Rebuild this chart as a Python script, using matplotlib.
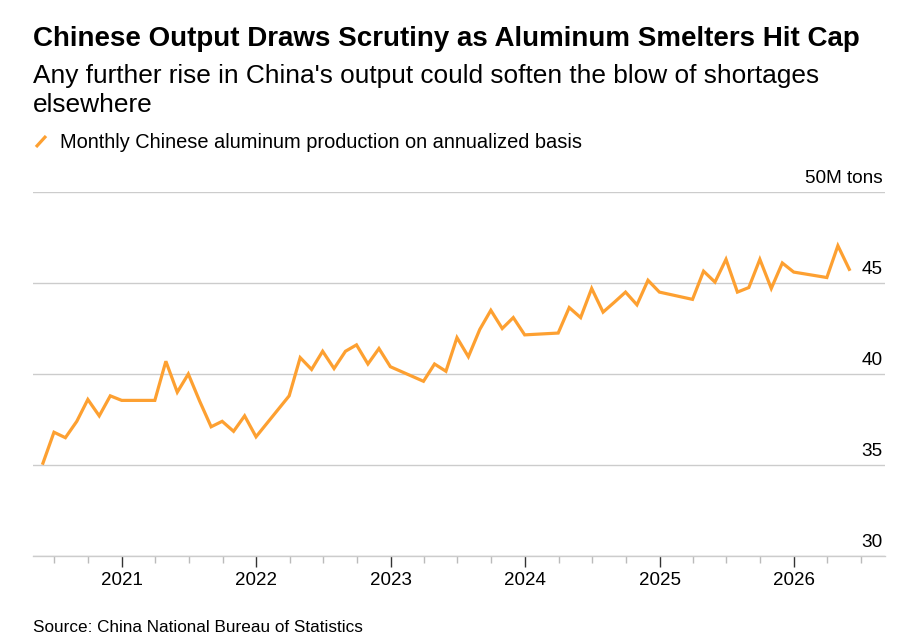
import matplotlib.pyplot as plt
import matplotlib.dates as mdates
import pandas as pd
from matplotlib.lines import Line2D

# Monthly Chinese aluminum output, annualized (million tons); Jan/Feb not reported separately
months = [
    "2020-05", "2020-06", "2020-07", "2020-08", "2020-09", "2020-10", "2020-11", "2020-12",
    "2021-03", "2021-04", "2021-05", "2021-06", "2021-07", "2021-08", "2021-09", "2021-10", "2021-11", "2021-12",
    "2022-03", "2022-04", "2022-05", "2022-06", "2022-07", "2022-08", "2022-09", "2022-10", "2022-11", "2022-12",
    "2023-03", "2023-04", "2023-05", "2023-06", "2023-07", "2023-08", "2023-09", "2023-10", "2023-11", "2023-12",
    "2024-03", "2024-04", "2024-05", "2024-06", "2024-07", "2024-08", "2024-09", "2024-10", "2024-11", "2024-12",
    "2025-03", "2025-04", "2025-05", "2025-06", "2025-07", "2025-08", "2025-09", "2025-10", "2025-11", "2025-12",
    "2026-03", "2026-04", "2026-05",
]
values = [
    35.1, 36.8, 36.5, 37.4, 38.6, 37.7, 38.8, 38.55,
    38.55, 40.7, 39.0, 40.0, 38.5, 37.1, 37.4, 36.85, 37.7, 36.55,
    38.8, 40.9, 40.25, 41.25, 40.3, 41.25, 41.6, 40.55, 41.4, 40.4,
    39.6, 40.55, 40.15, 42.0, 40.95, 42.45, 43.5, 42.5, 43.1, 42.15,
    42.25, 43.65, 43.1, 44.7, 43.4, 43.95, 44.5, 43.8, 45.15, 44.5,
    44.1, 45.65, 45.05, 46.3, 44.5, 44.75, 46.3, 44.7, 46.1, 45.6,
    45.3, 47.05, 45.75,
]
y_ticks = [30, 35, 40, 45, 50]
y_labels = ["30", "35", "40", "45", "50M tons"]

title = "Chinese Output Draws Scrutiny as Aluminum Smelters Hit Cap"
subtitle_lines = ["Any further rise in China's output could soften the blow of shortages", "elsewhere"]
legend_label = "Monthly Chinese aluminum production on annualized basis"
source = "Source: China National Bureau of Statistics"

orange = "#fda031"
grid_grey = "#cccccc"

plt.rcParams["font.family"] = ["Liberation Sans", "DejaVu Sans"]

dates = pd.to_datetime(months) + pd.offsets.MonthEnd(0)

fig = plt.figure(figsize=(9.19, 6.44), dpi=100)
ax = fig.add_axes([33 / 919, 1 - 556 / 644, 852 / 919, 364 / 644])

ax.plot(dates, values, color=orange, lw=2.3, solid_joinstyle="miter", zorder=3)

ax.set_xlim(pd.Timestamp("2020-05-04"), pd.Timestamp("2026-09-05"))
ax.set_ylim(30, 50)

for s in ["top", "left", "right"]:
    ax.spines[s].set_visible(False)
ax.spines["bottom"].set_color(grid_grey)
ax.spines["bottom"].set_linewidth(1)

ax.set_yticks(y_ticks)
ax.tick_params(axis="y", left=False, labelleft=False)
ax.yaxis.grid(True, color=grid_grey, lw=1)
ax.set_axisbelow(True)
for v, lab in zip(y_ticks, y_labels):
    ax.text(0.9975, v + 0.3, lab, transform=ax.get_yaxis_transform(),
            ha="right", va="bottom", fontsize=13.7, color="#000000")

ax.xaxis.set_major_locator(mdates.YearLocator())
ax.xaxis.set_major_formatter(mdates.DateFormatter("%Y"))
ax.xaxis.set_minor_locator(mdates.MonthLocator(bymonth=[1, 4, 7, 10]))
ax.tick_params(axis="x", which="major", length=8, width=1, color="#333333",
               labelsize=13.5, pad=3.5)
ax.tick_params(axis="x", which="minor", length=5, width=1, color="#bbbbbb")

fig.text(33 / 919, 1 - 46 / 644, title, fontsize=20, fontweight="bold", va="baseline")
fig.text(33 / 919, 1 - 83 / 644, subtitle_lines[0], fontsize=18.9, va="baseline")
fig.text(33 / 919, 1 - 112 / 644, subtitle_lines[1], fontsize=18.9, va="baseline")
fig.text(60 / 919, 1 - 148 / 644, legend_label, fontsize=14.4, va="baseline")
fig.add_artist(Line2D([36 / 919, 46 / 919], [1 - 147 / 644, 1 - 136 / 644],
                      color=orange, lw=2.3, solid_capstyle="butt"))
fig.text(33 / 919, 1 - 632 / 644, source, fontsize=12.3, va="baseline")

fig.savefig("out.png", dpi=100)
